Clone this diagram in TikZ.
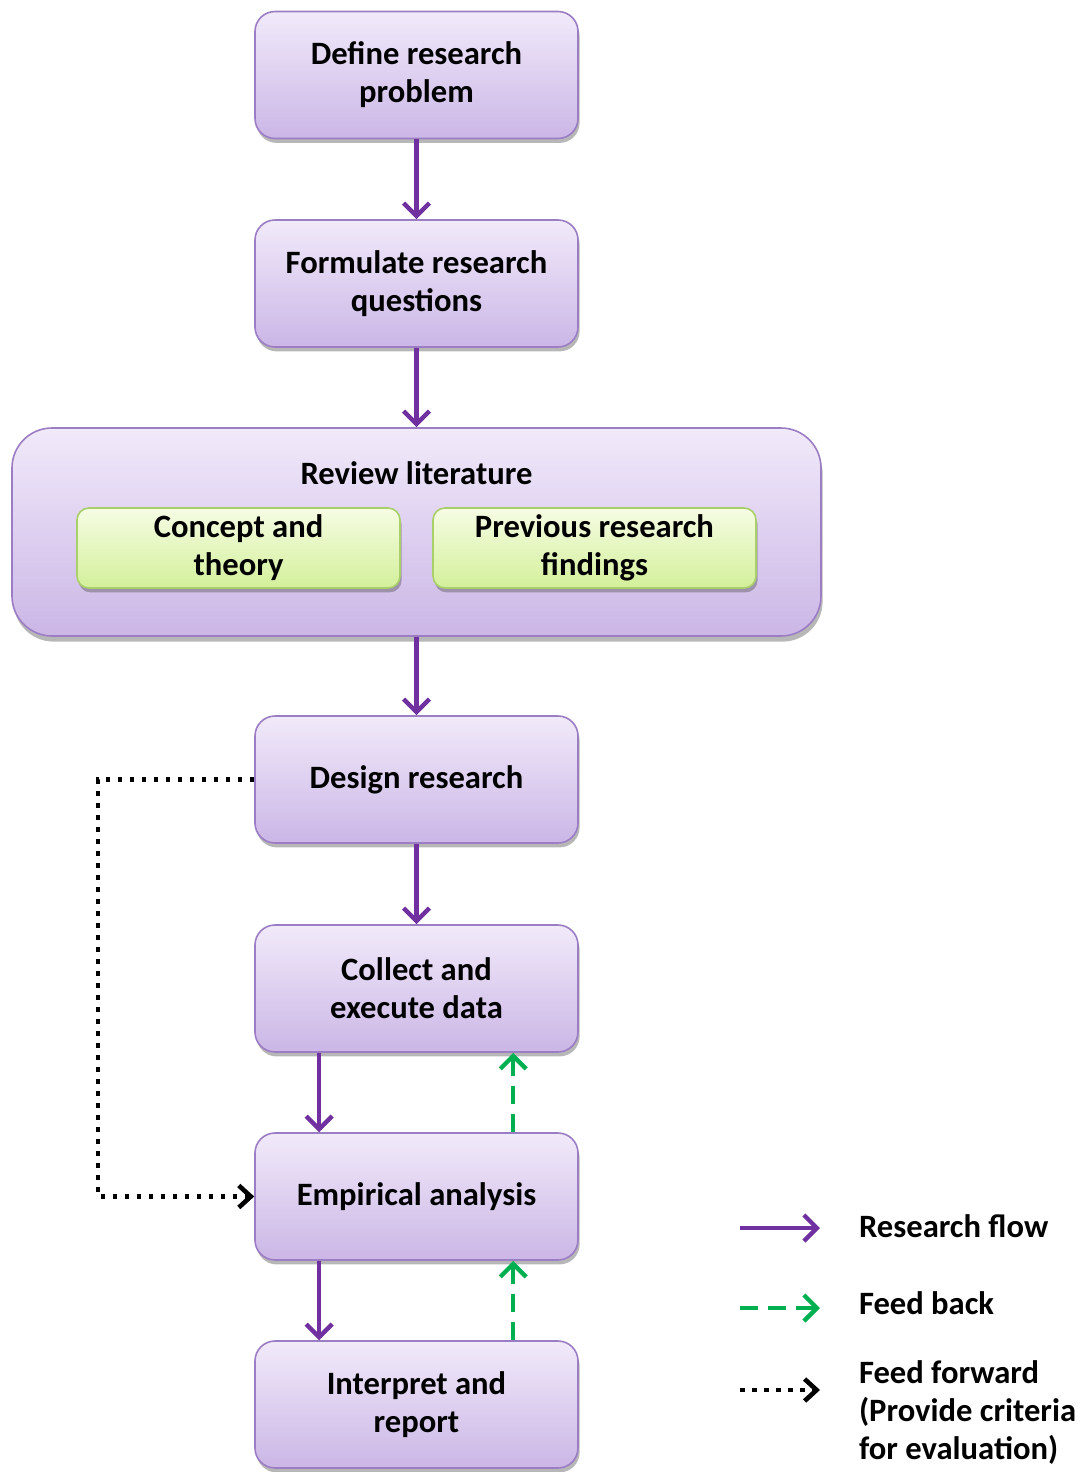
\documentclass[tikz,border=0pt]{standalone}
\usepackage{fontspec}
\setmainfont{Carlito}
\usetikzlibrary{arrows.meta,shadows,calc}
\definecolor{flowpurple}{HTML}{7030A0}
\definecolor{fbgreen}{HTML}{00B050}
\definecolor{boxtop}{HTML}{F1EAFA}
\definecolor{boxbot}{HTML}{CBB6E6}
\definecolor{boxline}{HTML}{9B7DC4}
\definecolor{grntop}{HTML}{F6FCE4}
\definecolor{grnbot}{HTML}{D3F09A}
\definecolor{grnline}{HTML}{A9CF6A}
\tikzset{
  every node/.style={font=\bfseries\fontsize{16.3pt}{19pt}\selectfont, align=center},
  stepbox/.style={draw=boxline, line width=0.8pt, rounded corners=10pt,
    top color=boxtop, bottom color=boxbot,
    drop shadow={shadow xshift=0.8pt, shadow yshift=-2.2pt, opacity=0.4, fill=black!70},
    minimum width=161.5pt, minimum height=63.5pt, inner sep=2pt},
  subbox/.style={draw=grnline, line width=0.8pt, rounded corners=6pt,
    top color=grntop, bottom color=grnbot,
    drop shadow={shadow xshift=0.8pt, shadow yshift=-2.2pt, opacity=0.4, fill=black!70},
    minimum width=161.5pt, minimum height=40pt, inner sep=2pt},
  bigbox/.style={draw=boxline, line width=0.8pt, rounded corners=20pt,
    top color=boxtop, bottom color=boxbot,
    drop shadow={shadow xshift=0.8pt, shadow yshift=-2.8pt, opacity=0.4, fill=black!70},
    minimum width=404.5pt, minimum height=104pt},
  flow/.style={draw=flowpurple, line width=2.2pt,
    -{Straight Barb[length=6.5pt,width=13pt,line width=2.2pt]}},
  feedback/.style={draw=fbgreen, line width=2.2pt, dash pattern=on 9pt off 5pt,
    -{Straight Barb[length=6.5pt,width=13pt,line width=2.2pt]}},
  feedfwd/.style={draw=black, line width=2.3pt, dash pattern=on 2.3pt off 3.7pt,
    -{Straight Barb[length=6pt,width=11pt,line width=2.3pt]}},
  legtext/.style={anchor=west, align=left},
}
\begin{document}
\begin{tikzpicture}[x=0.5pt, y=-0.5pt]
\useasboundingbox (0,0) rectangle (1090,1472);

% main sequence of steps
\node[stepbox] (define) at (416.5,75) {Define research\\problem};
\node[stepbox] (formulate) at (416.5,283.5) {Formulate research\\questions};
\node[bigbox] (review) at (416.5,532) {};
\node (revtitle) at (416.5,473) {Review literature};
\node[subbox] (concept) at (238.5,548) {Concept and\\theory};
\node[subbox] (previous) at (594.5,548) {Previous research\\findings};
\node[stepbox] (design) at (416.5,779.5) {Design research};
\node[stepbox] (collect) at (416.5,988.5) {Collect and\\execute data};
\node[stepbox] (empirical) at (416.5,1196.5) {Empirical analysis};
\node[stepbox] (interpret) at (416.5,1404.5) {Interpret and\\report};

% research flow
\draw[flow] (define.south) -- (formulate.north);
\draw[flow] (formulate.south) -- (review.north);
\draw[flow] (review.south) -- (design.north);
\draw[flow] (design.south) -- (collect.north);
\draw[flow] ($(collect.south west)+(65,0)$) -- ($(empirical.north west)+(65,0)$);
\draw[flow] ($(empirical.south west)+(65,0)$) -- ($(interpret.north west)+(65,0)$);

% feedback
\draw[feedback] ($(empirical.north west)+(259,0)$) -- ($(collect.south west)+(259,0)$);
\draw[feedback] ($(interpret.north west)+(259,0)$) -- ($(empirical.south west)+(259,0)$);

% feed forward
\coordinate (ffcorner) at (98,779.5);
\draw[feedfwd] (design.west) -- (ffcorner) |- (empirical.west);

% legend
\coordinate (l1a) at (740,1228); \coordinate (l1b) at (820,1228);
\coordinate (l2a) at (740,1308); \coordinate (l2b) at (820,1308);
\coordinate (l3a) at (740,1390); \coordinate (l3b) at (820,1390);
\draw[flow] (l1a) -- (l1b);
\draw[feedback] (l2a) -- (l2b);
\draw[feedfwd] (l3a) -- (l3b);
\node[legtext] (lt1) at (852,1226) {Research flow};
\node[legtext] (lt2) at (852,1303) {Feed back};
\node[legtext, anchor=north west, inner ysep=1pt] (lt3) at (852,1358) {Feed forward\\(Provide criteria\\for evaluation)};
\end{tikzpicture}
\end{document}
